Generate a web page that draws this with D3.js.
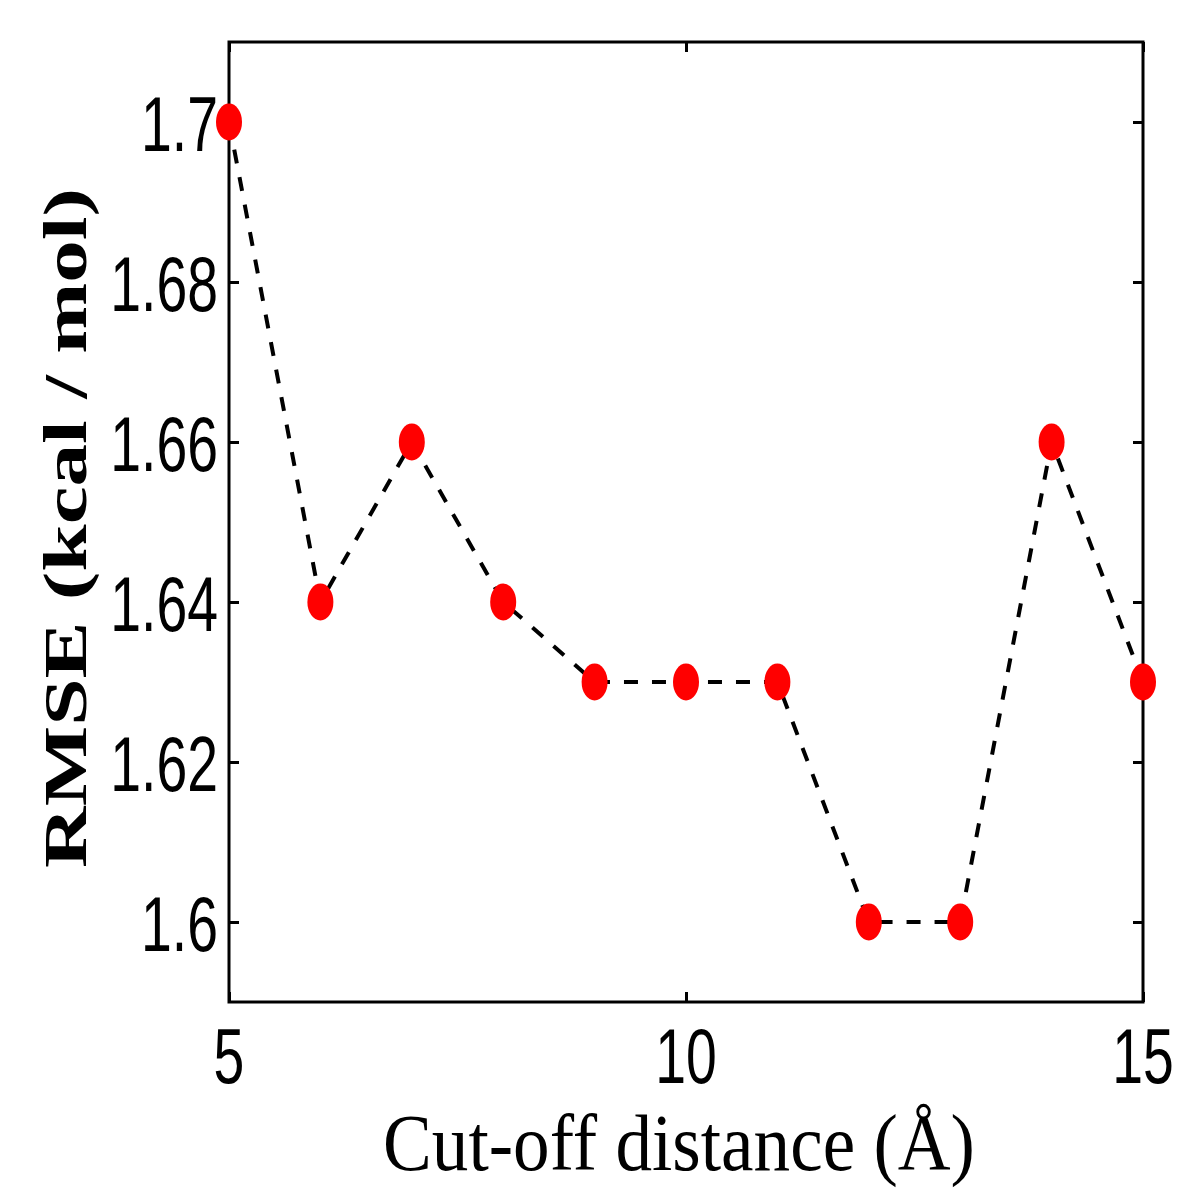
<!DOCTYPE html>
<html>
<head>
<meta charset="utf-8">
<script src="https://cdn.jsdelivr.net/npm/d3@7"></script>
<style>
  body { margin: 0; background: #fff; }
  svg { display: block; }
</style>
</head>
<body>
<svg id="chart" width="1200" height="1200"></svg>
<script>
// data
var cutoffs = [5, 6, 7, 8, 9, 10, 11, 12, 13, 14, 15];
var rmse = [1.70, 1.64, 1.66, 1.64, 1.63, 1.63, 1.63, 1.60, 1.60, 1.66, 1.63];
var xTicks = [5, 10, 15];
var yTicks = [1.6, 1.62, 1.64, 1.66, 1.68, 1.7];
var yTickLabels = ["1.6", "1.62", "1.64", "1.66", "1.68", "1.7"];

var svg = d3.select("#chart");
var margin = {top: 42, right: 57, bottom: 198, left: 229};
var width = 1200 - margin.left - margin.right;
var height = 1200 - margin.top - margin.bottom;

var panel = svg.append("g")
    .attr("transform", "translate(" + margin.left + "," + margin.top + ")");

var xScale = d3.scaleLinear().domain([5, 15]).range([0, width]);
var yScale = d3.scaleLinear().domain([1.59, 1.71]).range([height, 0]);

// ticks, pointing inwards on all four sides
var tickLen = 10;
[d3.axisBottom(xScale), d3.axisTop(xScale)].forEach(function (ax, k) {
    panel.append("g")
        .attr("transform", "translate(0," + (k === 0 ? height : 0) + ")")
        .call(ax.tickValues(xTicks).tickSizeInner(-tickLen).tickSizeOuter(0).tickFormat(""))
        .call(function (g) { g.select(".domain").remove(); })
        .selectAll("line").attr("stroke", "#000").attr("stroke-width", 3);
});
[d3.axisLeft(yScale), d3.axisRight(yScale)].forEach(function (ax, k) {
    panel.append("g")
        .attr("transform", "translate(" + (k === 0 ? 0 : width) + ",0)")
        .call(ax.tickValues(yTicks).tickSizeInner(-tickLen).tickSizeOuter(0).tickFormat(""))
        .call(function (g) { g.select(".domain").remove(); })
        .selectAll("line").attr("stroke", "#000").attr("stroke-width", 3);
});

// frame
panel.append("rect")
    .attr("x", 0).attr("y", 0)
    .attr("width", width).attr("height", height)
    .attr("fill", "none")
    .attr("stroke", "#000")
    .attr("stroke-width", 3);

// tick labels (narrow sans, squeezed horizontally)
var sx = 0.71;
xTicks.forEach(function (t) {
    panel.append("text")
        .attr("transform", "translate(" + xScale(t) + "," + (height + 81) + ") scale(" + sx + ",1)")
        .attr("text-anchor", "middle")
        .attr("font-family", "Liberation Sans, Arial, sans-serif")
        .attr("font-size", 78)
        .text(t);
});
yTicks.forEach(function (t, i) {
    panel.append("text")
        .attr("transform", "translate(" + (-11) + "," + (yScale(t) + 29) + ") scale(" + sx + ",1)")
        .attr("text-anchor", "end")
        .attr("font-family", "Liberation Sans, Arial, sans-serif")
        .attr("font-size", 78)
        .text(yTickLabels[i]);
});

// dashed line
var line = d3.line()
    .x(function (d, i) { return xScale(cutoffs[i]); })
    .y(function (d) { return yScale(d); });

panel.append("path")
    .datum(rmse)
    .attr("d", line)
    .attr("fill", "none")
    .attr("stroke", "#000")
    .attr("stroke-width", 4)
    .attr("stroke-dasharray", "14,14");

// markers
panel.selectAll(".dot")
    .data(rmse)
    .enter().append("ellipse")
    .attr("class", "dot")
    .attr("cx", function (d, i) { return xScale(cutoffs[i]); })
    .attr("cy", function (d) { return yScale(d); })
    .attr("rx", 13)
    .attr("ry", 18.5)
    .attr("fill", "#ff0000");

// axis labels, fitted to the width seen in the figure
function fitText(sel, targetW) {
    var w = sel.node().getComputedTextLength();
    return targetW / w;
}

var xl = svg.append("text")
    .attr("font-family", "Liberation Serif, Times New Roman, serif")
    .attr("font-size", 80)
    .attr("text-anchor", "middle")
    .text("Cut-off distance (Å)");
var kx = fitText(xl, 592);
xl.attr("transform", "translate(" + (margin.left + width / 2 - 7) + ",1170) scale(" + kx + ",1)");

var yl = svg.append("text")
    .attr("font-family", "Liberation Serif, Times New Roman, serif")
    .attr("font-weight", "bold")
    .attr("font-size", 62)
    .attr("text-anchor", "middle")
    .text("RMSE (kcal / mol)");
var ky = fitText(yl, 680);
yl.attr("transform", "translate(86," + 528 + ") rotate(-90) scale(" + ky + ",1)");
</script>
</body>
</html>
